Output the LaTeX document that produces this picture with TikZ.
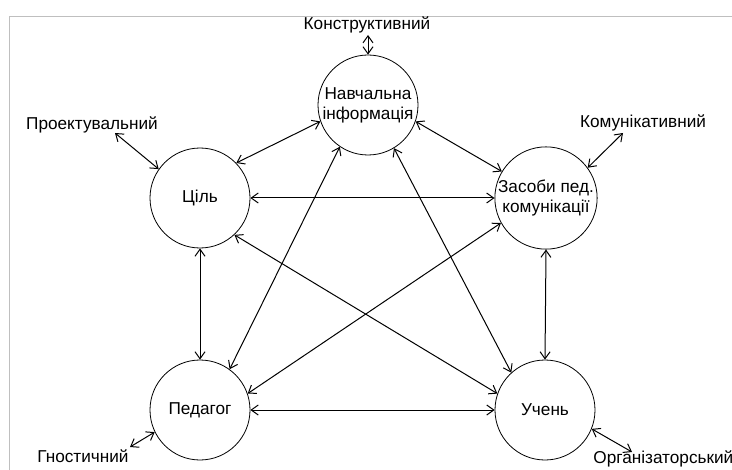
\documentclass[tikz,border=0pt]{standalone}
\usepackage{fontspec}
\setmainfont{Liberation Sans}
\usetikzlibrary{arrows.meta}

\begin{document}
\begin{tikzpicture}[x=0.5pt,y=-0.5pt,
  >={Straight Barb[length=3.5pt,width=5pt]},
  circ/.style={draw,circle,minimum size=50pt,inner sep=0pt,align=center,
    font=\fontsize{8.6}{10}\selectfont},
  lbl/.style={inner sep=1pt,font=\fontsize{8.6}{10}\selectfont},
  link/.style={<->,line width=0.5pt}]
\useasboundingbox (0,0) rectangle (732,470);
\fill[white] (0,0) rectangle (732,470);
\draw[black!25] (732,16) -- (9,16) -- (9,470);

% circles
\node (info)    [circ] at (368,105) {Навчальна\\інформація};
\node (goal)    [circ] at (200,198) {Ціль};
\node (means)   [circ] at (546,198) {Засоби пед.\\комунікації};
\node (teacher) [circ] at (200,410) {Педагог};
\node (pupil)   [circ] at (545,410) {Учень};

% outer labels
\node (konstr) [lbl] at (367,25)  {Конструктивний};
\node (proj)   [lbl] at (92,125)  {Проектувальний};
\node (komun)  [lbl] at (643,123) {Комунікативний};
\node (gnost)  [lbl] at (83,456)  {Гностичний};
\node (org)    [lbl,anchor=west] at (591,459) {Організаторський};
\coordinate (konstr-end) at (368,35);
\coordinate (proj-end)   at (115,133);
\coordinate (komun-end)  at (623,133);
\coordinate (gnost-end)  at (130,447);
\coordinate (org-end)    at (632,452);

\draw[link] (konstr-end) -- (info.north);
\draw[link] (proj-end) -- (goal.145);
\draw[link] (komun-end) -- (means.36);
\draw[link] (gnost-end) -- (teacher.206);
\draw[link] (pupil.-22) -- (org-end);

% links between circles
\draw[link] (goal.44) -- (info.199);
\draw[link] (info.-19) -- (means.149);
\draw[link] (goal.east) -- (means.west);
\draw[link] (goal.south) -- (teacher.north);
\draw[link] (means.south) -- (pupil.north);
\draw[link] (teacher.east) -- (pupil.west);
\draw[link] (info.236) -- (teacher.54);
\draw[link] (info.-59) -- (pupil.132);
\draw[link] (goal.-47) -- (pupil.161);
\draw[link] (means.209) -- (teacher.19);
\end{tikzpicture}
\end{document}
